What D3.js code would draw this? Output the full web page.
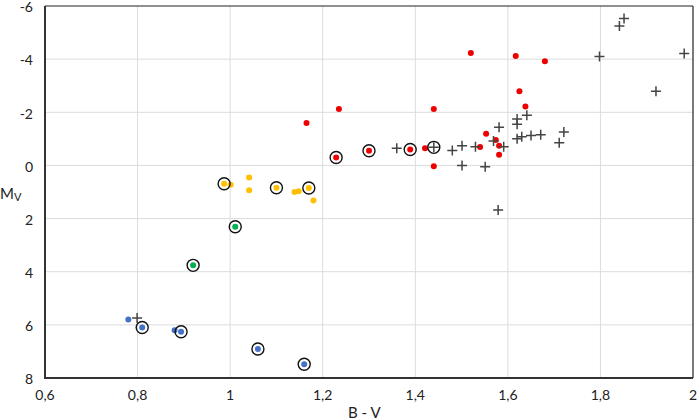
<!DOCTYPE html>
<html>
<head>
<meta charset="utf-8">
<script src="https://cdn.jsdelivr.net/npm/d3@7"></script>
<style>
  html, body { margin: 0; padding: 0; background: #fff; }
  svg { display: block; font-family: Lato, "Open Sans", sans-serif; }
</style>
</head>
<body>
<svg id="chart" width="700" height="420"></svg>
<script>
// ---- data (B-V, Mv) ----
const bluePoints = [[0.780, 5.80], [0.810, 6.10], [0.880, 6.20], [0.894, 6.26], [1.060, 6.91], [1.160, 7.48]];
const greenPoints = [[1.011, 2.31], [0.920, 3.76]];
const yellowPoints = [[0.987, 0.69], [1.001, 0.73], [1.041, 0.45], [1.041, 0.93], [1.100, 0.84],
                      [1.139, 1.00], [1.148, 0.97], [1.170, 0.85], [1.180, 1.32]];
const redPoints = [[1.229, -0.30], [1.300, -0.55], [1.165, -1.60], [1.235, -2.12], [1.520, -4.23],
                   [1.617, -4.12], [1.680, -3.92], [1.625, -2.79], [1.638, -2.22], [1.440, -2.12],
                   [1.389, -0.60], [1.421, -0.65], [1.440, 0.03], [1.553, -1.19], [1.540, -0.69],
                   [1.574, -0.96], [1.581, -0.74], [1.581, -0.40]];
const plusPoints = [[0.799, 5.74], [1.360, -0.65], [1.440, -0.68], [1.480, -0.56], [1.501, -0.74],
                    [1.530, -0.70], [1.501, 0.00], [1.551, 0.05], [1.581, -1.44], [1.569, -0.92],
                    [1.591, -0.70], [1.579, 1.68], [1.620, -1.75], [1.620, -1.55], [1.641, -1.89],
                    [1.620, -1.00], [1.630, -1.08], [1.650, -1.13], [1.671, -1.15], [1.721, -1.26],
                    [1.711, -0.85], [1.798, -4.10], [1.841, -5.25], [1.851, -5.53], [1.981, -4.21],
                    [1.920, -2.79]];
const ringedPoints = [[0.810, 6.10], [0.894, 6.26], [1.060, 6.91], [1.160, 7.48], [1.011, 2.31],
                      [0.920, 3.76], [0.987, 0.69], [1.100, 0.84], [1.170, 0.85], [1.229, -0.30],
                      [1.300, -0.55], [1.389, -0.60], [1.440, -0.68]];
const xTicks = [0.6, 0.8, 1.0, 1.2, 1.4, 1.6, 1.8, 2.0];
const yTicks = [-6, -4, -2, 0, 2, 4, 6, 8];
const xLabel = "B - V";

// ---- layout ----
const svg = d3.select("#chart");
const pLeft = 45, pRight = 693, pTop = 6, pBottom = 378;
const x = d3.scaleLinear().domain([0.6, 2.0]).range([pLeft, pRight]);
const y = d3.scaleLinear().domain([-6, 8]).range([pTop, pBottom]);
const fmt = d => d3.format("~g")(d).replace(".", ",");

// grid
svg.append("g").selectAll("line").data(xTicks.slice(1, -1)).join("line")
  .attr("x1", d => x(d)).attr("x2", d => x(d)).attr("y1", pTop).attr("y2", pBottom)
  .attr("stroke", "#dcdcdc").attr("stroke-width", 1);
svg.append("g").selectAll("line").data(yTicks.slice(1, -1)).join("line")
  .attr("y1", d => y(d)).attr("y2", d => y(d)).attr("x1", pLeft).attr("x2", pRight)
  .attr("stroke", "#dcdcdc").attr("stroke-width", 1);

// frame
svg.append("line").attr("x1", pLeft).attr("x2", pRight).attr("y1", pTop).attr("y2", pTop)
  .attr("stroke", "#222").attr("stroke-width", 1.2);
svg.append("line").attr("x1", pRight).attr("x2", pRight).attr("y1", pTop).attr("y2", pBottom)
  .attr("stroke", "#222").attr("stroke-width", 1.2);
svg.append("line").attr("x1", pLeft).attr("x2", pLeft).attr("y1", pTop).attr("y2", pBottom + 1)
  .attr("stroke", "#333").attr("stroke-width", 2);
svg.append("line").attr("x1", pLeft - 1).attr("x2", pRight).attr("y1", pBottom).attr("y2", pBottom)
  .attr("stroke", "#333").attr("stroke-width", 2);

// tick labels
svg.append("g").selectAll("text").data(xTicks).join("text")
  .attr("x", d => x(d)).attr("y", pBottom + 22)
  .attr("text-anchor", "middle").attr("font-size", 14).attr("fill", "#222")
  .text(fmt);
svg.append("g").selectAll("text").data(yTicks).join("text")
  .attr("x", pLeft - 12).attr("y", d => y(d)).attr("dy", "0.45em")
  .attr("text-anchor", "end").attr("font-size", 14).attr("fill", "#222")
  .text(d => String(d));

// axis titles
svg.append("text").attr("x", 348).attr("y", 418).attr("font-size", 15).attr("fill", "#222")
  .text(xLabel);
const mv = svg.append("text").attr("x", 0).attr("y", 199).attr("font-size", 15).attr("fill", "#222");
mv.append("tspan").text("M");
mv.append("tspan").attr("font-size", 11).attr("dy", 2).text("V");

// dots
function dots(data, color) {
  svg.append("g").selectAll("circle").data(data).join("circle")
    .attr("cx", d => x(d[0])).attr("cy", d => y(d[1])).attr("r", 3)
    .attr("fill", color);
}
dots(bluePoints, "#4472C4");
dots(greenPoints, "#00B050");
dots(yellowPoints, "#FFC000");
dots(redPoints, "#EE0000");

// plus markers
svg.append("g").selectAll("path").data(plusPoints).join("path")
  .attr("d", d => {
    const cx = x(d[0]), cy = y(d[1]), s = 5;
    return `M${cx - s},${cy}H${cx + s}M${cx},${cy - s}V${cy + s}`;
  })
  .attr("stroke", "#444").attr("stroke-width", 1.5).attr("fill", "none");

// rings
svg.append("g").selectAll("circle").data(ringedPoints).join("circle")
  .attr("cx", d => x(d[0])).attr("cy", d => y(d[1])).attr("r", 6)
  .attr("fill", "none").attr("stroke", "#111").attr("stroke-width", 1.4);
</script>
</body>
</html>
